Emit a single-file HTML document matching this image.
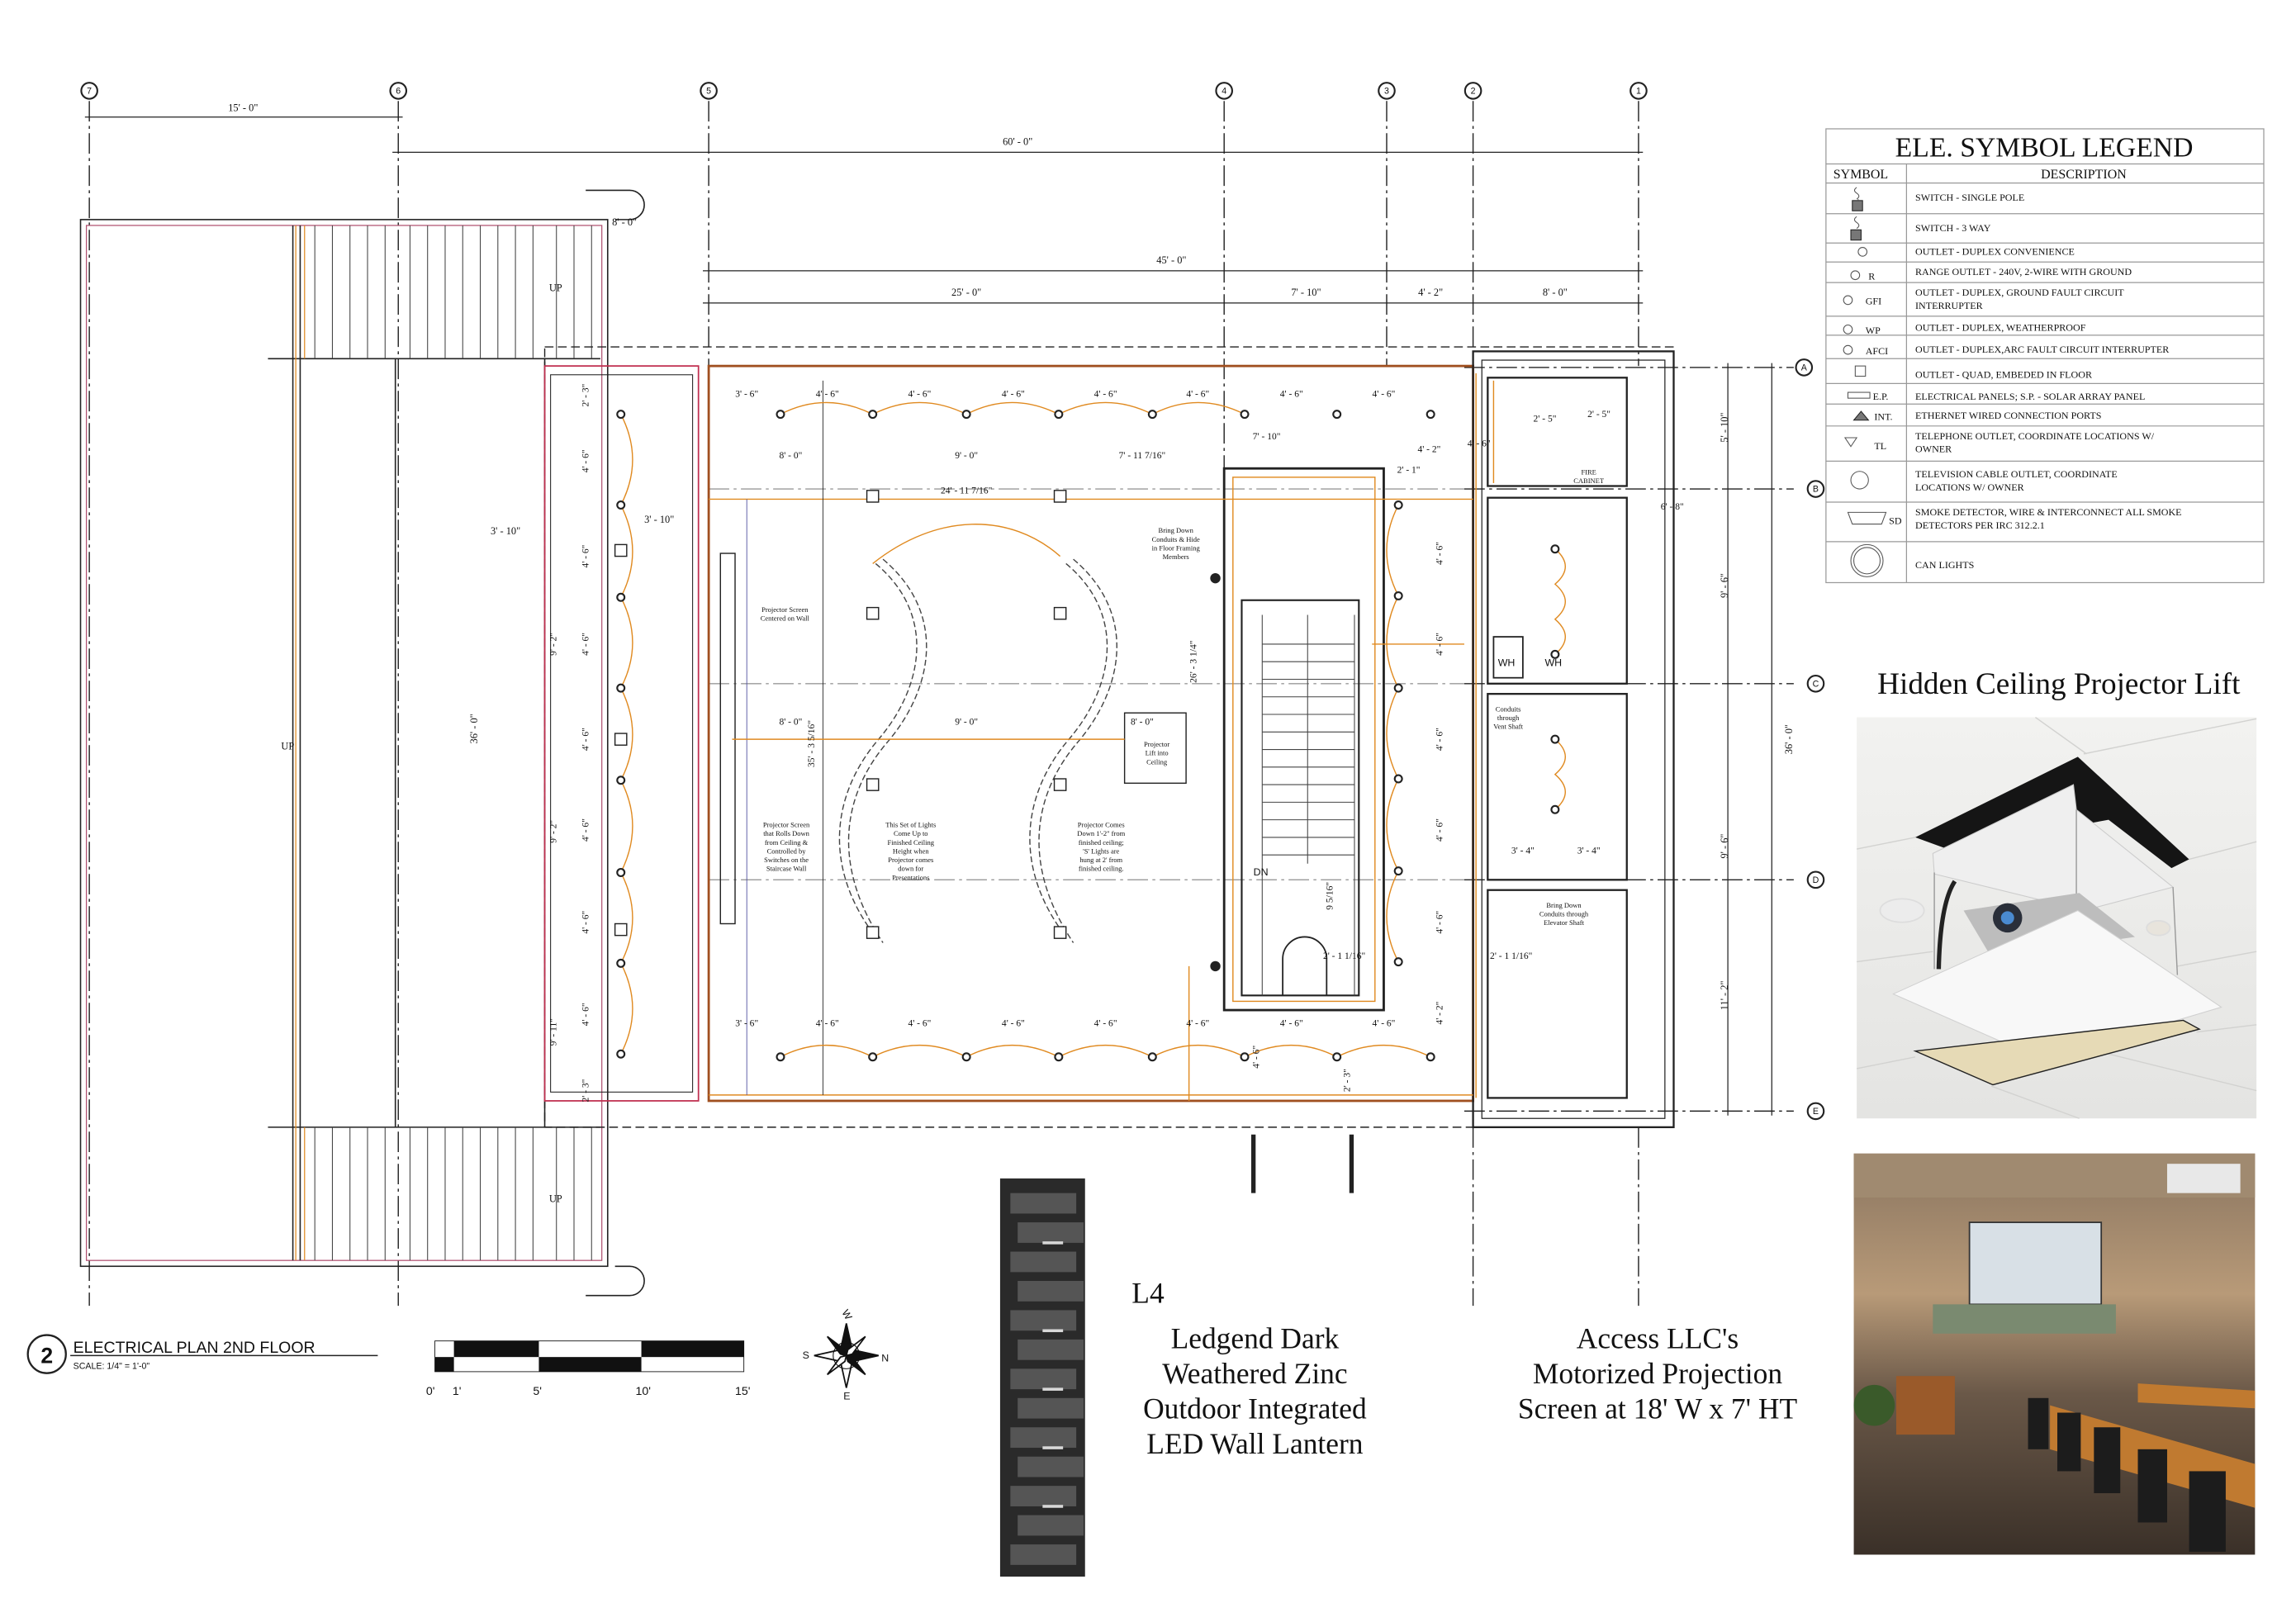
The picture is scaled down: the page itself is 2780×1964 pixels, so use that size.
<!DOCTYPE html>
<html><head><meta charset="utf-8"><style>
html,body{margin:0;padding:0;background:#fff}
svg{display:block}
text{font-family:"Liberation Serif",serif;fill:#111}
.s{font-family:"Liberation Sans",sans-serif}
</style></head><body>
<svg width="2780" height="1964" viewBox="0 0 1568 1108" preserveAspectRatio="none" xmlns="http://www.w3.org/2000/svg">
<defs>
<linearGradient id="ceil" x1="0" y1="0" x2="0" y2="1"><stop offset="0" stop-color="#f2f2f0"/><stop offset="1" stop-color="#e4e4e2"/></linearGradient>
<linearGradient id="room" x1="0" y1="0" x2="0" y2="1"><stop offset="0" stop-color="#8a7560"/><stop offset="0.35" stop-color="#b89a78"/><stop offset="0.6" stop-color="#6a5848"/><stop offset="1" stop-color="#3a3028"/></linearGradient>
</defs>
<rect width="1568" height="1108" fill="#fff"/>

<g stroke="#222" stroke-width="0.8" stroke-dasharray="14,3,2,3" fill="none">
<line x1="61" y1="69" x2="61" y2="892"/><line x1="272" y1="69" x2="272" y2="892"/>
<line x1="484" y1="69" x2="484" y2="250"/><line x1="836" y1="69" x2="836" y2="320"/>
<line x1="947" y1="69" x2="947" y2="250"/><line x1="1006" y1="69" x2="1006" y2="250"/>
<line x1="1119" y1="69" x2="1119" y2="250"/>
<line x1="1006" y1="770" x2="1006" y2="892"/><line x1="1119" y1="770" x2="1119" y2="892"/>
<line x1="1000" y1="251" x2="1225" y2="251"/><line x1="1000" y1="334" x2="1225" y2="334"/>
<line x1="1000" y1="467" x2="1225" y2="467"/><line x1="1000" y1="601" x2="1225" y2="601"/>
<line x1="1000" y1="759" x2="1225" y2="759"/>
<line x1="484" y1="334" x2="1000" y2="334" stroke="#999"/><line x1="484" y1="467" x2="1000" y2="467" stroke="#999"/><line x1="484" y1="601" x2="1000" y2="601" stroke="#999"/>
</g>
<g fill="#fff" stroke="#222" stroke-width="1.2">
<circle cx="61" cy="62" r="5.5"/><circle cx="272" cy="62" r="5.5"/><circle cx="484" cy="62" r="5.5"/><circle cx="836" cy="62" r="5.5"/><circle cx="947" cy="62" r="5.5"/><circle cx="1006" cy="62" r="5.5"/><circle cx="1119" cy="62" r="5.5"/>
<circle cx="1232" cy="251" r="5.5"/><circle cx="1240" cy="334" r="5.5"/><circle cx="1240" cy="467" r="5.5"/><circle cx="1240" cy="601" r="5.5"/><circle cx="1240" cy="759" r="5.5"/>
</g>
<g font-size="6" text-anchor="middle" class="s">
<text x="61" y="64" class="s">7</text><text x="272" y="64" class="s">6</text><text x="484" y="64" class="s">5</text><text x="836" y="64" class="s">4</text><text x="947" y="64" class="s">3</text><text x="1006" y="64" class="s">2</text><text x="1119" y="64" class="s">1</text>
<text x="1232" y="253" class="s">A</text><text x="1240" y="336" class="s">B</text><text x="1240" y="469" class="s">C</text><text x="1240" y="603" class="s">D</text><text x="1240" y="761" class="s">E</text>
</g>

<g stroke="#222" stroke-width="0.7">
<line x1="58" y1="80" x2="275" y2="80"/><line x1="268" y1="104" x2="1122" y2="104"/>
<line x1="480" y1="185" x2="1122" y2="185"/><line x1="480" y1="207" x2="1122" y2="207"/>
<line x1="1180" y1="248" x2="1180" y2="762"/><line x1="1210" y1="248" x2="1210" y2="762"/>
</g>
<g font-size="7" text-anchor="middle">
<text x="166" y="76">15' - 0"</text><text x="695" y="99">60' - 0"</text><text x="800" y="180">45' - 0"</text>
<text x="660" y="202">25' - 0"</text><text x="892" y="202">7' - 10"</text><text x="977" y="202">4' - 2"</text><text x="1062" y="202">8' - 0"</text>
<text x="1180" y="292" transform="rotate(-90 1180 292)">5' - 10"</text>
<text x="1180" y="400" transform="rotate(-90 1180 400)">9' - 6"</text>
<text x="1180" y="578" transform="rotate(-90 1180 578)">9' - 6"</text>
<text x="1180" y="680" transform="rotate(-90 1180 680)">11' - 2"</text>
<text x="1224" y="505" transform="rotate(-90 1224 505)">36' - 0"</text>
</g>

<g fill="none" stroke="#222" stroke-width="0.9">
<rect x="55" y="150" width="360" height="715"/>
<rect x="59" y="154" width="352" height="707" stroke="#b05070" stroke-width="0.7"/>
<line x1="200" y1="154" x2="200" y2="861"/><line x1="205" y1="154" x2="205" y2="861"/>
<line x1="270" y1="245" x2="270" y2="770"/><line x1="372" y1="245" x2="372" y2="770"/>
<line x1="183" y1="245" x2="410" y2="245"/><line x1="183" y1="770" x2="410" y2="770"/>
<path d="M400 130 h30 a10 10 0 0 1 0 20 h-10"/><path d="M400 885 h30 a10 10 0 0 0 0 -20 h-10"/>
</g>
<g stroke="#444" stroke-width="0.6">
<line x1="215" y1="154" x2="215" y2="245"/><line x1="227" y1="154" x2="227" y2="245"/><line x1="239" y1="154" x2="239" y2="245"/><line x1="251" y1="154" x2="251" y2="245"/><line x1="263" y1="154" x2="263" y2="245"/><line x1="280" y1="154" x2="280" y2="245"/><line x1="292" y1="154" x2="292" y2="245"/><line x1="304" y1="154" x2="304" y2="245"/><line x1="316" y1="154" x2="316" y2="245"/><line x1="328" y1="154" x2="328" y2="245"/><line x1="340" y1="154" x2="340" y2="245"/><line x1="352" y1="154" x2="352" y2="245"/><line x1="364" y1="154" x2="364" y2="245"/><line x1="380" y1="154" x2="380" y2="245"/><line x1="392" y1="154" x2="392" y2="245"/><line x1="404" y1="154" x2="404" y2="245"/>
<line x1="215" y1="770" x2="215" y2="861"/><line x1="227" y1="770" x2="227" y2="861"/><line x1="239" y1="770" x2="239" y2="861"/><line x1="251" y1="770" x2="251" y2="861"/><line x1="263" y1="770" x2="263" y2="861"/><line x1="280" y1="770" x2="280" y2="861"/><line x1="292" y1="770" x2="292" y2="861"/><line x1="304" y1="770" x2="304" y2="861"/><line x1="316" y1="770" x2="316" y2="861"/><line x1="328" y1="770" x2="328" y2="861"/><line x1="340" y1="770" x2="340" y2="861"/><line x1="352" y1="770" x2="352" y2="861"/><line x1="364" y1="770" x2="364" y2="861"/><line x1="380" y1="770" x2="380" y2="861"/><line x1="392" y1="770" x2="392" y2="861"/><line x1="404" y1="770" x2="404" y2="861"/>
</g>
<g stroke="#e08a20" stroke-width="0.7"><line x1="202" y1="154" x2="202" y2="861"/><line x1="208" y1="154" x2="208" y2="245"/><line x1="208" y1="770" x2="208" y2="861"/></g>
<g font-size="7"><text x="375" y="199">UP</text><text x="375" y="821">UP</text><text x="192" y="512">UP</text>
<text x="326" y="508" transform="rotate(-90 326 508)">36' - 0"</text><text x="335" y="365">3' - 10"</text><text x="440" y="357">3' - 10"</text><text x="418" y="154">8' - 0"</text></g>

<g fill="none">
<rect x="372" y="237" width="771" height="533" stroke="#222" stroke-width="0.8" stroke-dasharray="6,3"/>
<rect x="372" y="250" width="105" height="502" stroke="#c03050" stroke-width="1"/>
<rect x="376" y="256" width="97" height="490" stroke="#222" stroke-width="0.6"/>
<rect x="484" y="250" width="522" height="502" stroke="#a05020" stroke-width="1.6"/>
<rect x="1006" y="240" width="137" height="530" stroke="#222" stroke-width="1.3"/>
<rect x="1012" y="246" width="125" height="518" stroke="#222" stroke-width="0.7"/>
<rect x="836" y="320" width="109" height="370" stroke="#222" stroke-width="1.6"/>
<rect x="842" y="326" width="97" height="358" stroke="#e08a20" stroke-width="0.8"/>
<rect x="848" y="410" width="80" height="270" stroke="#222" stroke-width="1.2"/>
<rect x="1016" y="258" width="95" height="74" stroke="#222" stroke-width="1.3"/>
<rect x="1016" y="340" width="95" height="127" stroke="#222" stroke-width="1.3"/>
<rect x="1016" y="474" width="95" height="127" stroke="#222" stroke-width="1.3"/>
<rect x="1016" y="608" width="95" height="142" stroke="#222" stroke-width="1.3"/>
<rect x="492" y="378" width="10" height="253" stroke="#222" stroke-width="0.8"/>
<rect x="768" y="487" width="42" height="48" stroke="#222" stroke-width="0.8"/>
<rect x="1020" y="435" width="20" height="28" stroke="#222"/>
<path d="M876 680 v-25 a15 15 0 0 1 30 0 v25" stroke="#222"/>
<line x1="484" y1="341" x2="1006" y2="341" stroke="#e08a20" stroke-width="0.8"/>
<line x1="484" y1="748" x2="1006" y2="748" stroke="#e08a20" stroke-width="0.8"/>
<line x1="510" y1="341" x2="510" y2="748" stroke="#5050a0" stroke-width="0.5"/>
<line x1="562" y1="260" x2="562" y2="748" stroke="#222" stroke-width="0.5"/>
<line x1="1008" y1="255" x2="1008" y2="750" stroke="#e08a20" stroke-width="0.8"/>
<line x1="856" y1="775" x2="856" y2="815" stroke="#222" stroke-width="3"/><line x1="923" y1="775" x2="923" y2="815" stroke="#222" stroke-width="3"/>
</g>
<g stroke="#444" stroke-width="0.6">
<line x1="862" y1="440" x2="925" y2="440"/><line x1="862" y1="452" x2="925" y2="452"/><line x1="862" y1="464" x2="925" y2="464"/><line x1="862" y1="476" x2="925" y2="476"/><line x1="862" y1="488" x2="925" y2="488"/><line x1="862" y1="500" x2="925" y2="500"/><line x1="862" y1="512" x2="925" y2="512"/><line x1="862" y1="524" x2="925" y2="524"/><line x1="862" y1="536" x2="925" y2="536"/><line x1="862" y1="548" x2="925" y2="548"/><line x1="862" y1="560" x2="925" y2="560"/><line x1="862" y1="572" x2="925" y2="572"/><line x1="862" y1="584" x2="925" y2="584"/>
<line x1="862" y1="420" x2="862" y2="680"/><line x1="925" y1="420" x2="925" y2="680"/><line x1="893" y1="420" x2="893" y2="590"/>
</g>
<g fill="none" stroke="#444" stroke-width="0.8" stroke-dasharray="4,2">
<path d="M598 385 C640 420 630 470 600 505 C570 540 560 590 598 640"/><path d="M603 382 C648 420 636 472 606 507 C576 542 567 590 603 644"/>
<path d="M728 385 C770 420 760 470 730 505 C700 540 690 590 728 640"/><path d="M733 382 C778 420 766 472 736 507 C706 542 697 590 733 644"/>
</g>
<path d="M596 385 C640 350 690 350 724 380" fill="none" stroke="#e08a20" stroke-width="0.8"/>
<g fill="none" stroke="#e08a20" stroke-width="0.8">
<path d="M533 283 q31 -16 63 0 q32 -16 64 0 q31 -16 63 0 q32 -16 64 0 q31 -16 63 0"/>
<path d="M533 722 q31 -16 63 0 q32 -16 64 0 q31 -16 63 0 q32 -16 64 0 q31 -16 63 0 q32 -16 63 0 q32 -16 64 0"/>
<path d="M424 283 q16 31 0 62 q16 32 0 63 q16 31 0 62 q16 32 0 63 q16 31 0 63 q16 31 0 62 q16 31 0 62"/>
<path d="M955 345 q-16 31 0 62 q-16 32 0 63 q-16 31 0 62 q-16 32 0 63 q-16 31 0 62"/>
<path d="M1062 375 q14 12 0 24 q14 12 0 24 q14 12 0 24"/>
<path d="M1062 505 q14 12 0 24 q14 12 0 24"/>
<line x1="500" y1="505" x2="768" y2="505"/><line x1="812" y1="660" x2="812" y2="752"/>
<line x1="937" y1="440" x2="1000" y2="440"/><line x1="1020" y1="260" x2="1020" y2="330"/>
</g>
<g fill="#fff" stroke="#222" stroke-width="1.2">
<circle cx="533" cy="283" r="2.5"/><circle cx="596" cy="283" r="2.5"/><circle cx="660" cy="283" r="2.5"/><circle cx="723" cy="283" r="2.5"/><circle cx="787" cy="283" r="2.5"/><circle cx="850" cy="283" r="2.5"/><circle cx="913" cy="283" r="2.5"/><circle cx="977" cy="283" r="2.5"/>
<circle cx="533" cy="722" r="2.5"/><circle cx="596" cy="722" r="2.5"/><circle cx="660" cy="722" r="2.5"/><circle cx="723" cy="722" r="2.5"/><circle cx="787" cy="722" r="2.5"/><circle cx="850" cy="722" r="2.5"/><circle cx="913" cy="722" r="2.5"/><circle cx="977" cy="722" r="2.5"/>
<circle cx="424" cy="283" r="2.5"/><circle cx="424" cy="345" r="2.5"/><circle cx="424" cy="408" r="2.5"/><circle cx="424" cy="470" r="2.5"/><circle cx="424" cy="533" r="2.5"/><circle cx="424" cy="596" r="2.5"/><circle cx="424" cy="658" r="2.5"/><circle cx="424" cy="720" r="2.5"/>
<circle cx="955" cy="345" r="2.5"/><circle cx="955" cy="407" r="2.5"/><circle cx="955" cy="470" r="2.5"/><circle cx="955" cy="532" r="2.5"/><circle cx="955" cy="595" r="2.5"/><circle cx="955" cy="657" r="2.5"/>
<circle cx="1062" cy="375" r="2.5"/><circle cx="1062" cy="447" r="2.5"/><circle cx="1062" cy="505" r="2.5"/><circle cx="1062" cy="553" r="2.5"/>
</g>
<g fill="#fff" stroke="#222" stroke-width="0.8">
<rect x="592" y="335" width="8" height="8"/><rect x="720" y="335" width="8" height="8"/><rect x="592" y="415" width="8" height="8"/><rect x="720" y="415" width="8" height="8"/><rect x="592" y="532" width="8" height="8"/><rect x="720" y="532" width="8" height="8"/><rect x="592" y="633" width="8" height="8"/><rect x="720" y="633" width="8" height="8"/>
<rect x="420" y="372" width="8" height="8"/><rect x="420" y="501" width="8" height="8"/><rect x="420" y="631" width="8" height="8"/>
</g>
<g fill="#222"><circle cx="830" cy="395" r="3.5"/><circle cx="830" cy="660" r="3.5"/></g>
<g font-size="6.5" text-anchor="middle">
<text x="510" y="271">3' - 6"</text><text x="565" y="271">4' - 6"</text><text x="628" y="271">4' - 6"</text><text x="692" y="271">4' - 6"</text><text x="755" y="271">4' - 6"</text><text x="818" y="271">4' - 6"</text><text x="882" y="271">4' - 6"</text><text x="945" y="271">4' - 6"</text>
<text x="540" y="313">8' - 0"</text><text x="660" y="313">9' - 0"</text><text x="780" y="313">7' - 11 7/16"</text><text x="660" y="337">24' - 11 7/16"</text>
<text x="540" y="495">8' - 0"</text><text x="660" y="495">9' - 0"</text><text x="780" y="495">8' - 0"</text>
<text x="510" y="701">3' - 6"</text><text x="565" y="701">4' - 6"</text><text x="628" y="701">4' - 6"</text><text x="692" y="701">4' - 6"</text><text x="755" y="701">4' - 6"</text><text x="818" y="701">4' - 6"</text><text x="882" y="701">4' - 6"</text><text x="945" y="701">4' - 6"</text>
<text x="865" y="300">7' - 10"</text><text x="962" y="323">2' - 1"</text><text x="976" y="309">4' - 2"</text><text x="1010" y="305">4' - 6"</text><text x="1142" y="348">6' - 8"</text>
<text x="1040" y="583">3' - 4"</text><text x="1085" y="583">3' - 4"</text><text x="1032" y="655">2' - 1 1/16"</text><text x="918" y="655">2' - 1 1/16"</text>
<text x="556" y="508" transform="rotate(-90 556 508)">35' - 3 5/16"</text><text x="817" y="452" transform="rotate(-90 817 452)">26' - 3 1/4"</text>
<text x="402" y="270" transform="rotate(-90 402 270)">2' - 3"</text><text x="402" y="315" transform="rotate(-90 402 315)">4' - 6"</text><text x="402" y="380" transform="rotate(-90 402 380)">4' - 6"</text><text x="402" y="440" transform="rotate(-90 402 440)">4' - 6"</text><text x="402" y="505" transform="rotate(-90 402 505)">4' - 6"</text><text x="402" y="567" transform="rotate(-90 402 567)">4' - 6"</text><text x="402" y="630" transform="rotate(-90 402 630)">4' - 6"</text><text x="402" y="693" transform="rotate(-90 402 693)">4' - 6"</text><text x="402" y="745" transform="rotate(-90 402 745)">2' - 3"</text>
<text x="380" y="440" transform="rotate(-90 380 440)">9' - 2"</text><text x="380" y="568" transform="rotate(-90 380 568)">9' - 2"</text><text x="380" y="705" transform="rotate(-90 380 705)">9' - 11"</text>
<text x="985" y="378" transform="rotate(-90 985 378)">4' - 6"</text><text x="985" y="440" transform="rotate(-90 985 440)">4' - 6"</text><text x="985" y="505" transform="rotate(-90 985 505)">4' - 6"</text><text x="985" y="567" transform="rotate(-90 985 567)">4' - 6"</text><text x="985" y="630" transform="rotate(-90 985 630)">4' - 6"</text><text x="985" y="692" transform="rotate(-90 985 692)">4' - 2"</text>
<text x="860" y="722" transform="rotate(-90 860 722)">4' - 6"</text><text x="922" y="738" transform="rotate(-90 922 738)">2' - 3"</text><text x="910" y="612" transform="rotate(-90 910 612)">9 5/16"</text>
<text x="1055" y="288">2' - 5"</text><text x="1092" y="285">2' - 5"</text>
</g>
<g font-size="4.8" text-anchor="middle">
<text x="536" y="418">Projector Screen</text><text x="536" y="424">Centered on Wall</text>
<text x="537" y="565">Projector Screen</text><text x="537" y="571">that Rolls Down</text><text x="537" y="577">from Ceiling &amp;</text><text x="537" y="583">Controlled by</text><text x="537" y="589">Switches on the</text><text x="537" y="595">Staircase Wall</text>
<text x="622" y="565">This Set of Lights</text><text x="622" y="571">Come Up to</text><text x="622" y="577">Finished Ceiling</text><text x="622" y="583">Height when</text><text x="622" y="589">Projector comes</text><text x="622" y="595">down for</text><text x="622" y="601">Presentations</text>
<text x="752" y="565">Projector Comes</text><text x="752" y="571">Down 1'-2" from</text><text x="752" y="577">finished ceiling;</text><text x="752" y="583">'S' Lights are</text><text x="752" y="589">hung at 2' from</text><text x="752" y="595">finished ceiling.</text>
<text x="803" y="364">Bring Down</text><text x="803" y="370">Conduits &amp; Hide</text><text x="803" y="376">in Floor Framing</text><text x="803" y="382">Members</text>
<text x="790" y="510">Projector</text><text x="790" y="516">Lift into</text><text x="790" y="522">Ceiling</text>
<text x="1068" y="620">Bring Down</text><text x="1068" y="626">Conduits through</text><text x="1068" y="632">Elevator Shaft</text>
<text x="1030" y="486">Conduits</text><text x="1030" y="492">through</text><text x="1030" y="498">Vent Shaft</text>
<text x="1085" y="324">FIRE</text><text x="1085" y="330">CABINET</text>
</g>
<g font-size="7" class="s"><text x="1023" y="455" class="s">WH</text><text x="1055" y="455" class="s">WH</text><text x="856" y="598" class="s">DN</text></g>

<circle cx="32" cy="925" r="13" fill="#fff" stroke="#222" stroke-width="1.3"/>
<text x="32" y="931" font-size="15" text-anchor="middle" class="s" font-weight="bold">2</text>
<text x="50" y="924" font-size="11" class="s">ELECTRICAL PLAN 2ND FLOOR</text>
<line x1="48" y1="926" x2="258" y2="926" stroke="#222" stroke-width="0.8"/>
<text x="50" y="935" font-size="6" class="s">SCALE:  1/4" = 1'-0"</text>
<g fill="#111"><rect x="297" y="927" width="13" height="10"/><rect x="310" y="916" width="58" height="11"/><rect x="368" y="927" width="70" height="10"/><rect x="438" y="916" width="70" height="11"/></g>
<rect x="297" y="916" width="211" height="21" fill="none" stroke="#111" stroke-width="0.5"/>
<g font-size="8" class="s"><text x="291" y="953" class="s">0'</text><text x="309" y="953" class="s">1'</text><text x="364" y="953" class="s">5'</text><text x="434" y="953" class="s">10'</text><text x="502" y="953" class="s">15'</text></g>
<g transform="translate(578,926)" stroke="#111" fill="#111">
<polygon points="0,-22 4,-4 0,0 -4,-4"/><polygon points="0,22 4,4 0,0 -4,4" fill="#fff"/><polygon points="-22,0 -4,-4 0,0 -4,4" fill="#fff"/><polygon points="22,0 4,-4 0,0 4,4"/>
<polygon points="-13,-13 -1,-4 0,0 -4,-1" /><polygon points="13,13 1,4 0,0 4,1"/><polygon points="13,-13 4,-1 0,0 1,-4" fill="#fff"/><polygon points="-13,13 -4,1 0,0 -1,4" fill="#fff"/>
<circle r="9" fill="none" stroke-width="0.6"/>
</g>
<g font-size="7" class="s"><text x="575" y="900" class="s" transform="rotate(60 578 898)">W</text><text x="602" y="930" class="s">N</text><text x="548" y="928" class="s">S</text><text x="576" y="956" class="s">E</text></g>

<rect x="683" y="805" width="58" height="272" fill="#2a2a2a"/>
<g fill="#555">
<rect x="690" y="815" width="45" height="14"/><rect x="695" y="835" width="45" height="14"/><rect x="690" y="855" width="45" height="14"/><rect x="695" y="875" width="45" height="14"/><rect x="690" y="895" width="45" height="14"/><rect x="695" y="915" width="45" height="14"/><rect x="690" y="935" width="45" height="14"/><rect x="695" y="955" width="45" height="14"/><rect x="690" y="975" width="45" height="14"/><rect x="695" y="995" width="45" height="14"/><rect x="690" y="1015" width="45" height="14"/><rect x="695" y="1035" width="45" height="14"/><rect x="690" y="1055" width="45" height="14"/>
</g>
<g fill="#d8d8d8"><rect x="712" y="848" width="14" height="2"/><rect x="712" y="908" width="14" height="2"/><rect x="712" y="948" width="14" height="2"/><rect x="712" y="988" width="14" height="2"/><rect x="712" y="1028" width="14" height="2"/></g>

<g font-size="20" text-anchor="middle">
<text x="784" y="890">L4</text>
<text x="857" y="921">Ledgend Dark</text><text x="857" y="945">Weathered Zinc</text><text x="857" y="969">Outdoor Integrated</text><text x="857" y="993">LED Wall Lantern</text>
<text x="1132" y="921">Access LLC's</text><text x="1132" y="945">Motorized Projection</text><text x="1132" y="969">Screen at 18' W x 7' HT</text>
<text x="1406" y="474" font-size="21">Hidden Ceiling Projector Lift</text>
</g>

<g fill="none" stroke="#999" stroke-width="0.7">
<rect x="1247" y="88" width="299" height="310"/>
<line x1="1247" y1="112" x2="1546" y2="112"/><line x1="1247" y1="125" x2="1546" y2="125"/>
<line x1="1247" y1="146" x2="1546" y2="146"/><line x1="1247" y1="166" x2="1546" y2="166"/><line x1="1247" y1="179" x2="1546" y2="179"/><line x1="1247" y1="193" x2="1546" y2="193"/><line x1="1247" y1="216" x2="1546" y2="216"/><line x1="1247" y1="229" x2="1546" y2="229"/><line x1="1247" y1="245" x2="1546" y2="245"/><line x1="1247" y1="262" x2="1546" y2="262"/><line x1="1247" y1="276" x2="1546" y2="276"/><line x1="1247" y1="291" x2="1546" y2="291"/><line x1="1247" y1="315" x2="1546" y2="315"/><line x1="1247" y1="343" x2="1546" y2="343"/><line x1="1247" y1="370" x2="1546" y2="370"/>
<line x1="1302" y1="112" x2="1302" y2="398"/>
</g>
<text x="1396" y="107" font-size="19" text-anchor="middle">ELE. SYMBOL LEGEND</text>
<g font-size="9"><text x="1252" y="122">SYMBOL</text><text x="1423" y="122" text-anchor="middle">DESCRIPTION</text></g>
<g font-size="6.8">
<text x="1308" y="137">SWITCH - SINGLE POLE</text><text x="1308" y="158">SWITCH - 3 WAY</text><text x="1308" y="174">OUTLET - DUPLEX CONVENIENCE</text><text x="1308" y="188">RANGE OUTLET - 240V, 2-WIRE WITH GROUND</text>
<text x="1308" y="202">OUTLET - DUPLEX, GROUND FAULT CIRCUIT</text><text x="1308" y="211">INTERRUPTER</text><text x="1308" y="226">OUTLET - DUPLEX, WEATHERPROOF</text><text x="1308" y="241">OUTLET - DUPLEX,ARC FAULT CIRCUIT INTERRUPTER</text>
<text x="1308" y="258">OUTLET - QUAD, EMBEDED IN FLOOR</text><text x="1308" y="273">ELECTRICAL PANELS; S.P. - SOLAR ARRAY PANEL</text><text x="1308" y="286">ETHERNET WIRED CONNECTION PORTS</text>
<text x="1308" y="300">TELEPHONE OUTLET, COORDINATE LOCATIONS W/</text><text x="1308" y="309">OWNER</text><text x="1308" y="326">TELEVISION CABLE OUTLET, COORDINATE</text><text x="1308" y="335">LOCATIONS W/ OWNER</text>
<text x="1308" y="352">SMOKE DETECTOR, WIRE &amp; INTERCONNECT ALL SMOKE</text><text x="1308" y="361">DETECTORS PER IRC 312.2.1</text><text x="1308" y="388">CAN LIGHTS</text>
<text x="1276" y="191">R</text><text x="1274" y="208">GFI</text><text x="1274" y="228">WP</text><text x="1274" y="242">AFCI</text><text x="1279" y="273">E.P.</text><text x="1280" y="287">INT.</text><text x="1280" y="307">TL</text><text x="1290" y="358">SD</text>
</g>
<g fill="#777" stroke="#222" stroke-width="0.6"><rect x="1265" y="137" width="7" height="7"/><rect x="1264" y="157" width="7" height="7"/><polygon points="1266,287 1271,281 1276,287"/></g>
<g fill="none" stroke="#555" stroke-width="0.6"><circle cx="1275" cy="383" r="11"/><circle cx="1275" cy="383" r="9"/><circle cx="1270" cy="328" r="6"/><rect x="1267" y="250" width="7" height="7"/><rect x="1262" y="268" width="15" height="4"/><path d="M1262 350 h26 l-3 8 h-20z"/>
<path d="M1268 128 q-3 2 0 4 q3 2 0 4 M1269 136 v1"/><path d="M1268 148 q-3 2 0 4 q3 2 0 4"/>
<circle cx="1272" cy="172" r="3"/><circle cx="1267" cy="188" r="3"/><circle cx="1262" cy="205" r="3"/><circle cx="1262" cy="225" r="3"/><circle cx="1262" cy="239" r="3"/><path d="M1264 305 l4 -6 h-8z"/></g>

<!-- photo 1 -->
<rect x="1268" y="490" width="273" height="274" fill="url(#ceil)"/>
<g stroke="#d2d2d0" stroke-width="0.8" fill="none">
<line x1="1390" y1="490" x2="1425" y2="515"/><line x1="1423" y1="515" x2="1541" y2="491"/>
<line x1="1495" y1="587" x2="1541" y2="575"/><line x1="1268" y1="580" x2="1308" y2="572"/>
<line x1="1268" y1="657" x2="1320" y2="650"/><line x1="1487" y1="660" x2="1541" y2="650"/>
<line x1="1268" y1="730" x2="1308" y2="722"/><line x1="1500" y1="705" x2="1541" y2="700"/>
<line x1="1360" y1="742" x2="1420" y2="764"/><line x1="1440" y1="720" x2="1541" y2="745"/>
</g>
<ellipse cx="1299" cy="622" rx="15" ry="8" fill="#ececec" stroke="#ddd"/>
<ellipse cx="1474" cy="634" rx="8" ry="5" fill="#e8e4dc" stroke="#ddd"/>
<polygon points="1308,572 1419,517 1495,587 1483,593 1440,560 1330,580" fill="#151515"/>
<polygon points="1320,583 1416,536 1418,553 1484,606 1423,622 1321,597" fill="#efefef" stroke="#ccc" stroke-width="0.6"/>
<g stroke="#999" stroke-width="0.8"><line x1="1321" y1="596" x2="1321" y2="662"/><line x1="1484" y1="606" x2="1487" y2="666"/><line x1="1418" y1="553" x2="1418" y2="625"/></g>
<path d="M1335 602 q-10 15 -11 60" stroke="#222" stroke-width="3" fill="none"/>
<polygon points="1341,622 1420,610 1458,640 1360,654" fill="#bdbdbd"/>
<circle cx="1371" cy="627" r="10" fill="#2a2f3a"/><circle cx="1371" cy="627" r="4.5" fill="#4a8ad0"/>
<polygon points="1293,679 1419,622 1517,688 1395,724" fill="#f8f8f8" stroke="#d0d0d0" stroke-width="0.6"/>
<polygon points="1308,718 1491,697 1502,703 1361,741" fill="#e6dab6" stroke="#222" stroke-width="0.8"/>
<!-- photo 2 -->
<rect x="1266" y="788" width="274" height="274" fill="url(#room)"/>
<rect x="1266" y="788" width="274" height="30" fill="#a08a70"/>
<rect x="1345" y="835" width="90" height="56" fill="#d8e0e6" stroke="#333"/>
<rect x="1320" y="891" width="125" height="20" fill="#7a8a70"/>
<rect x="1480" y="795" width="50" height="20" fill="#e8e8e8"/>
<polygon points="1400,960 1540,1000 1540,1030 1400,990" fill="#c07a30"/>
<polygon points="1460,945 1540,950 1540,962 1460,958" fill="#c07a30"/>
<rect x="1295" y="940" width="40" height="40" fill="#9a5a2a"/>
<circle cx="1280" cy="960" r="14" fill="#3a5a2a"/>
<g fill="#1c1c1c"><rect x="1385" y="955" width="14" height="35"/><rect x="1405" y="965" width="16" height="40"/><rect x="1430" y="975" width="18" height="45"/><rect x="1460" y="990" width="20" height="50"/><rect x="1495" y="1005" width="25" height="55"/></g>
</svg>
</body></html>
